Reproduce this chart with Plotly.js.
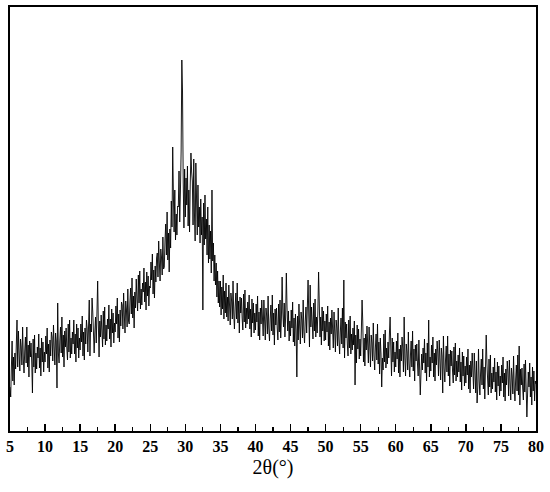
<!DOCTYPE html>
<html>
<head>
<meta charset="utf-8">
<script src="https://cdn.plot.ly/plotly-3.0.1.min.js"></script>
<style>html,body{margin:0;padding:0;background:#fff;}#chart{width:550px;height:492px;}</style>
</head>
<body>
<div id="chart"></div>
<script>
// 2θ start / step (degrees) and intensity (a.u.), one row per degree
const twoThetaStart = 5;
const twoThetaStep = 0.1;
const intensity = [
  44, 34, 64, 90, 50, 74, 46, 78, 62, 86,          // 5
  111, 64, 100, 78, 60, 92, 84, 66, 104, 72,       // 6
  58, 80, 94, 68, 104, 64, 86, 54, 90, 74,         // 7
  88, 68, 38, 92, 64, 96, 58, 78, 62, 84,          // 8
  73, 97, 63, 83, 55, 93, 69, 89, 59, 79,          // 9
  69, 95, 77, 103, 63, 87, 59, 91, 75, 99,         // 10
  94, 70, 106, 84, 66, 98, 90, 43, 128, 78,        // 11
  68, 90, 104, 78, 114, 74, 96, 64, 100, 84,       // 12
  103, 83, 71, 107, 79, 111, 73, 93, 77, 99,       // 13
  87, 111, 77, 97, 69, 107, 83, 103, 73, 93,       // 14
  81, 107, 89, 115, 75, 99, 71, 103, 87, 111,      // 15
  103, 79, 115, 131, 75, 107, 99, 133, 119, 87,    // 16
  78, 100, 114, 88, 124, 150, 106, 74, 110, 94,    // 17
  116, 96, 84, 120, 92, 124, 86, 106, 90, 112,     // 18
  102, 126, 92, 112, 84, 122, 98, 118, 88, 108,    // 19
  99, 125, 107, 133, 93, 117, 89, 121, 105, 129,   // 20
  126, 102, 138, 116, 98, 130, 122, 104, 142, 110, // 21
  107, 129, 143, 117, 153, 113, 135, 103, 139, 123,// 22
  152, 132, 120, 156, 128, 160, 122, 142, 126, 148,// 23
  139, 163, 129, 149, 121, 159, 135, 155, 125, 145,// 24
  143, 169, 151, 177, 137, 161, 133, 165, 149, 173,// 25
  178, 154, 190, 168, 150, 182, 174, 156, 194, 162,// 26
  164, 190, 207, 176, 219, 171, 198, 159, 202, 183,// 27
  230, 204, 284, 235, 199, 241, 191, 217, 196, 225,// 28
  224, 260, 209, 239, 280, 371, 339, 248, 203, 262,// 29
  214, 253, 226, 265, 205, 241, 199, 247, 278, 259,// 30
  250, 206, 272, 218, 190, 268, 214, 196, 246, 204,// 31
  224, 188, 232, 196, 214, 121, 228, 186, 236, 192,// 32
  212, 176, 224, 168, 206, 172, 200, 158, 241, 170,// 33
  188, 150, 176, 146, 168, 134, 160, 128, 150, 124,// 34
  150, 116, 144, 122, 156, 112, 140, 118, 148, 114,// 35
  134, 110, 146, 124, 106, 138, 130, 112, 150, 118,// 36
  102, 124, 138, 112, 148, 108, 130, 98, 134, 118, // 37
  133, 113, 101, 137, 109, 141, 103, 123, 107, 129,// 38
  112, 136, 102, 122, 94, 132, 108, 128, 98, 118,  // 39
  101, 127, 109, 135, 95, 119, 91, 123, 107, 131,  // 40
  119, 95, 131, 109, 91, 123, 115, 97, 135, 103,   // 41
  90, 112, 126, 100, 136, 96, 118, 86, 122, 106,   // 42
  123, 103, 91, 127, 99, 131, 93, 113, 154, 119,   // 43
  104, 128, 94, 114, 158, 124, 100, 120, 90, 110,  // 44
  95, 121, 103, 129, 89, 113, 85, 117, 101, 54,    // 45
  115, 91, 127, 105, 87, 119, 111, 93, 131, 99,    // 46
  88, 110, 124, 98, 134, 151, 116, 84, 146, 104,   // 47
  124, 104, 92, 128, 100, 132, 94, 114, 98, 120,   // 48
  159, 128, 94, 114, 86, 124, 100, 120, 90, 110,   // 49
  91, 117, 99, 125, 85, 109, 81, 113, 97, 121,     // 50
  107, 83, 119, 97, 79, 111, 103, 85, 123, 91,     // 51
  77, 99, 113, 87, 123, 83, 151, 73, 109, 93,      // 52
  107, 87, 75, 111, 83, 115, 77, 97, 81, 103,      // 53
  86, 110, 46, 96, 68, 106, 82, 102, 72, 92,       // 54
  75, 101, 131, 109, 69, 93, 65, 97, 81, 105,      // 55
  92, 68, 104, 82, 64, 96, 88, 70, 108, 76,        // 56
  61, 83, 97, 71, 107, 67, 89, 57, 93, 77,         // 57
  44, 73, 61, 97, 69, 101, 63, 83, 67, 89,         // 58
  73, 97, 114, 83, 55, 93, 69, 89, 59, 79,         // 59
  64, 90, 72, 98, 58, 82, 54, 86, 70, 94,          // 60
  83, 59, 114, 73, 55, 87, 79, 61, 99, 67,         // 61
  54, 76, 90, 64, 100, 60, 82, 50, 86, 70,         // 62
  87, 67, 55, 91, 63, 36, 57, 77, 61, 83,          // 63
  68, 92, 58, 78, 50, 88, 64, 111, 54, 74,         // 64
  60, 86, 68, 94, 54, 78, 50, 82, 66, 90,          // 65
  79, 55, 91, 69, 51, 83, 75, 38, 95, 63,          // 66
  49, 71, 85, 59, 95, 55, 77, 45, 81, 65,          // 67
  80, 60, 48, 84, 56, 88, 50, 70, 54, 76,          // 68
  59, 83, 49, 69, 41, 79, 55, 75, 45, 65,          // 69
  48, 74, 56, 82, 42, 66, 38, 70, 54, 78,          // 70
  66, 42, 78, 56, 38, 70, 28, 44, 82, 50,          // 71
  36, 58, 72, 46, 82, 42, 64, 32, 60, 96,          // 72
  68, 48, 36, 72, 44, 76, 38, 58, 42, 64,          // 73
  49, 73, 39, 59, 31, 69, 45, 65, 35, 55,          // 74
  40, 66, 48, 74, 34, 58, 30, 62, 46, 70,          // 75
  59, 35, 71, 49, 31, 63, 55, 37, 75, 43,          // 76
  30, 52, 66, 40, 76, 36, 85, 26, 62, 46,          // 77
  63, 43, 31, 67, 39, 71, 33, 14, 37, 59,          // 78
  44, 68, 34, 54, 26, 64, 40, 60, 30, 50,          // 79
  47                                               // 80
];
const xTickValues = [5, 10, 15, 20, 25, 30, 35, 40, 45, 50, 55, 60, 65, 70, 75, 80];
const xTitle = '2θ(°)';

const twoTheta = intensity.map((_, i) => +(twoThetaStart + i * twoThetaStep).toFixed(2));

const trace = {
  x: twoTheta,
  y: intensity,
  type: 'scatter',
  mode: 'lines',
  line: {color: '#000', width: 0.9},
  hoverinfo: 'x+y'
};

const serif = 'Liberation Serif, Times New Roman, serif';

const layout = {
  width: 550,
  height: 492,
  margin: {l: 10, r: 14, t: 7, b: 61},
  paper_bgcolor: '#fff',
  plot_bgcolor: '#fff',
  showlegend: false,
  xaxis: {
    range: [5, 80],
    tickmode: 'array',
    tickvals: xTickValues,
    ticktext: xTickValues.map(String),
    ticks: 'inside',
    ticklen: 7,
    tickwidth: 1.5,
    tickcolor: '#000',
    minor: {dtick: 2.5, tick0: 5, ticks: 'inside', ticklen: 4, tickwidth: 1.2, tickcolor: '#000'},
    showline: true,
    linecolor: '#000',
    linewidth: 2,
    mirror: true,
    showgrid: false,
    zeroline: false,
    tickfont: {family: serif, size: 16, color: '#000', weight: 'bold'},
    title: {text: xTitle, font: {family: serif, size: 20, color: '#000'}, standoff: 6}
  },
  yaxis: {
    range: [0, 424],
    showticklabels: false,
    ticks: '',
    showline: true,
    linecolor: '#000',
    linewidth: 2,
    mirror: true,
    showgrid: false,
    zeroline: false
  }
};

Plotly.newPlot('chart', [trace], layout, {displayModeBar: false, staticPlot: true});
</script>
</body>
</html>
